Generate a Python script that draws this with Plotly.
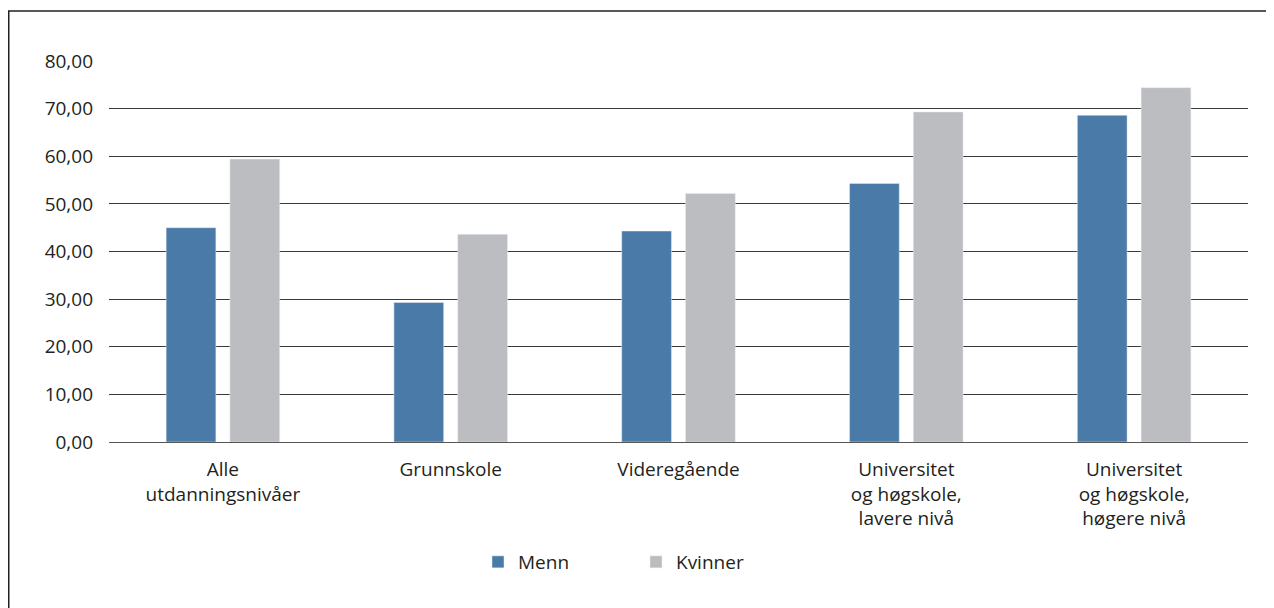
import plotly.graph_objects as go

# utdanningsnivå
kategorier = ["Alle<br>utdanningsnivåer", "Grunnskole", "Videregående",
              "Universitet<br>og høgskole,<br>lavere nivå",
              "Universitet<br>og høgskole,<br>høgere nivå"]
menn = [45.0, 29.3, 44.3, 54.3, 68.6]
kvinner = [59.4, 43.6, 52.2, 69.3, 74.4]
y_ticks = [0, 10, 20, 30, 40, 50, 60, 70, 80]
y_ticktext = ["%.2f" % v for v in y_ticks]
y_ticktext = [t.replace(".", ",") for t in y_ticktext]

fig = go.Figure()
fig.add_trace(go.Bar(name="Menn", x=kategorier, y=menn, marker_color="#4a7ba8"))
fig.add_trace(go.Bar(name="Kvinner", x=kategorier, y=kvinner, marker_color="#bcbdc1"))

# page has an 8px body margin, so the figure is a bit smaller
W, H = 1266, 600
ml, mr, mt, mb = 101, 26, 53, 166
pw, ph = W - ml - mr, H - mt - mb

def px(x):
    return (x - ml) / pw

def py(y):
    return (H - mb - y) / ph

fig.update_layout(
    width=W, height=H,
    margin=dict(l=ml, r=mr, t=mt, b=mb),
    paper_bgcolor="white", plot_bgcolor="white",
    font=dict(family="Open Sans", size=19, color="#231f20"),
    barmode="group", bargap=0.44, bargroupgap=0.22,
    showlegend=True,
    legend=dict(orientation="h", x=px(470), xanchor="left", y=py(554), yanchor="middle",
                entrywidth=113, entrywidthmode="pixels",
                font=dict(size=19), bgcolor="rgba(0,0,0,0)"),
    shapes=[dict(type="rect", xref="paper", yref="paper",
                 x0=px(0.75), x1=px(1300), y0=py(3), y1=py(640),
                 line=dict(color="#231f20", width=1.5), layer="below")],
)
fig.update_xaxes(showgrid=False, showline=False, ticks="", ticklabelstandoff=14)
fig.update_yaxes(range=[0, 80], tickvals=y_ticks, ticktext=y_ticktext,
                 showgrid=True, gridcolor="#3a3a3a", gridwidth=1,
                 zeroline=True, zerolinecolor="#555555", zerolinewidth=1,
                 ticklabelstandoff=15)

fig.write_html("out.html")
